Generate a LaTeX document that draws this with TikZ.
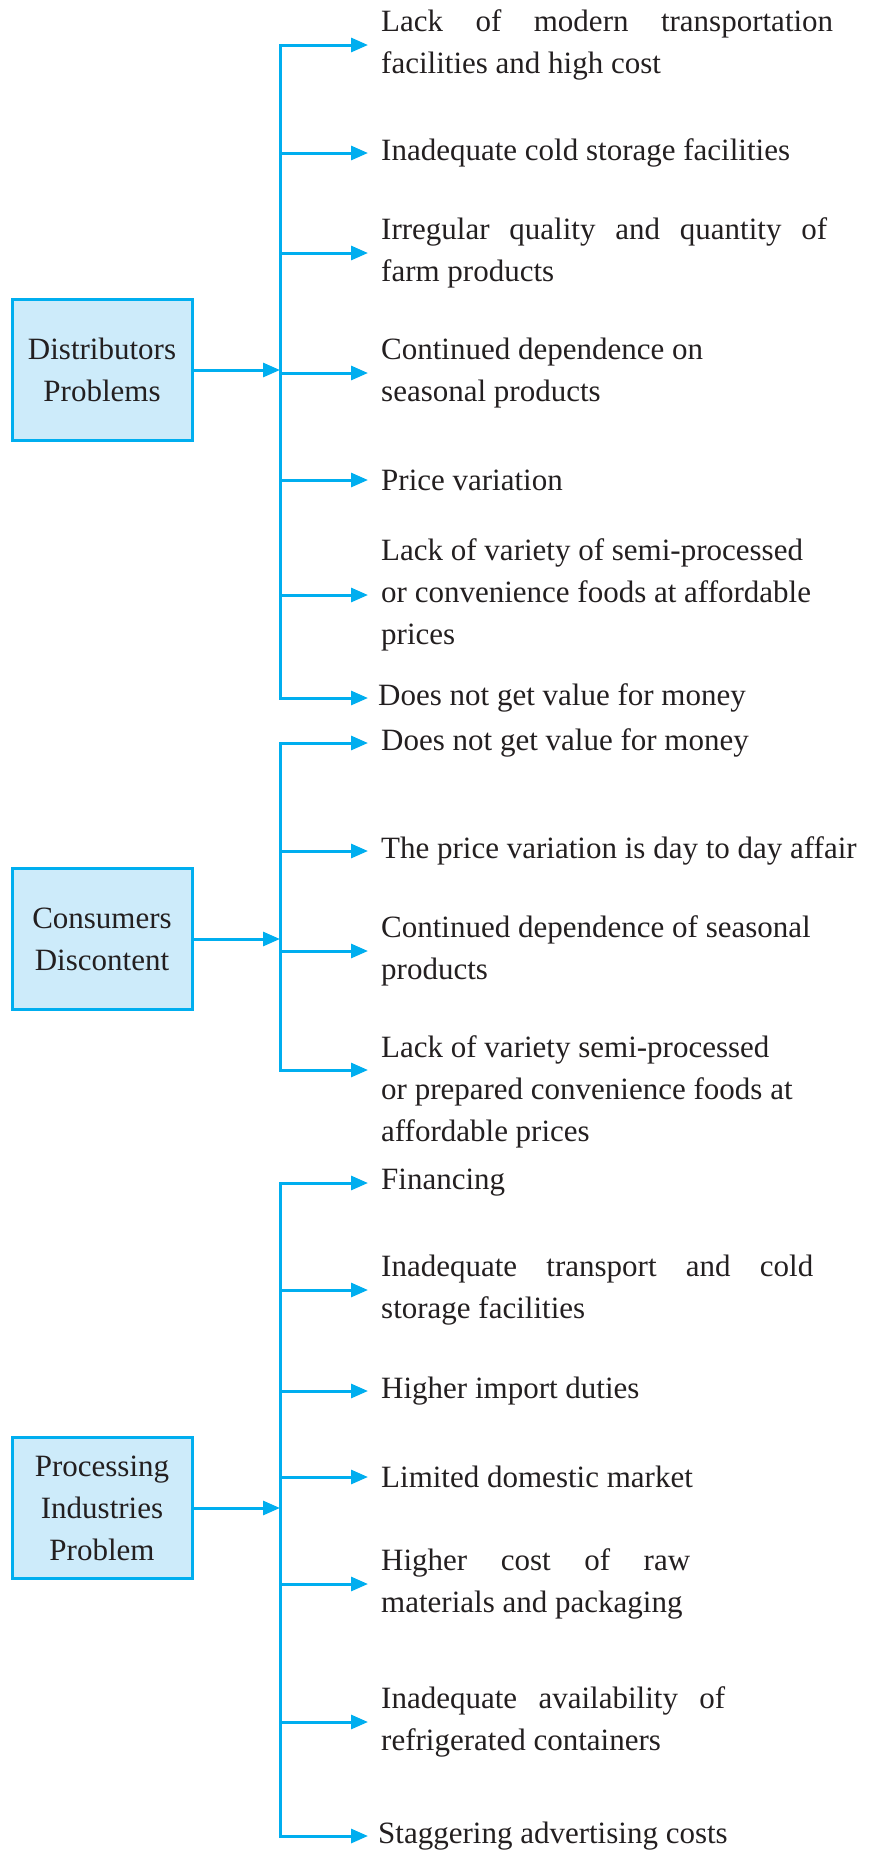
\documentclass[tikz,border=0pt]{standalone}
\usepackage{fontspec}
\setmainfont{Liberation Serif}
\usepackage{xcolor}
\usetikzlibrary{arrows.meta}
\definecolor{flowcyan}{HTML}{00AEEF}
\definecolor{boxblue}{HTML}{CDEBFA}
\definecolor{inkgray}{HTML}{231F20}

\begin{document}
\begin{tikzpicture}[x=1pt, y=-1pt,
    every node/.style={font=\fontsize{31}{42}\selectfont, text=inkgray},
    groupbox/.style={draw=flowcyan, fill=boxblue, line width=3pt, minimum width=180pt, minimum height=141pt, inner sep=0pt, align=center},
    item/.style={anchor=west, inner sep=0pt, align=left},
    jitem/.style={anchor=west, inner sep=0pt, text width=#1, align=justify},
    spine/.style={flowcyan, line width=3pt, line cap=rect},
    branch/.style={flowcyan, line width=3pt, -{Triangle[length=17pt, width=14pt]}}]
    \useasboundingbox (0,0) rectangle (877,1853);

    \node[groupbox] (dist) at (102,370) {Distributors\\Problems};
    \node[groupbox] (cons) at (102,939) {Consumers\\Discontent};
    \node[groupbox] (proc) at (102,1508) {Processing\\Industries\\Problem};

    \node[jitem=452pt] (d1) at (381,45) {Lack of modern transportation\linebreak facilities and high cost};
    \node[item] (d2) at (381,153) {Inadequate cold storage facilities};
    \node[jitem=446pt] (d3) at (381,253) {Irregular quality and quantity of\linebreak farm products};
    \node[item] (d4) at (381,373) {Continued dependence on\\seasonal products};
    \node[item] (d5) at (381,480) {Price variation};
    \node[item] (d6) at (381,595) {Lack of variety of semi-processed\\or convenience foods at affordable\\prices};
    \node[item] (d7) at (378,698) {Does not get value for money};

    \node[item] (c1) at (381,743) {Does not get value for money};
    \node[item] (c2) at (381,851) {The price variation is day to day affair};
    \node[item] (c3) at (381,951) {Continued dependence of seasonal\\products};
    \node[item] (c4) at (381,1092) {Lack of variety semi-processed\\or prepared convenience foods at\\affordable prices};

    \node[item] (p1) at (381,1183) {Financing};
    \node[jitem=432pt] (p2) at (381,1290) {Inadequate transport and cold\linebreak storage facilities};
    \node[item] (p3) at (381,1391) {Higher import duties};
    \node[item] (p4) at (381,1477) {Limited domestic market};
    \node[jitem=309pt] (p5) at (381,1584) {Higher cost of raw\linebreak materials and packaging};
    \node[jitem=344pt] (p6) at (381,1722) {Inadequate availability of\linebreak refrigerated containers};
    \node[item] (p7) at (378,1836) {Staggering advertising costs};

    \coordinate (dtop) at (280,45);
    \coordinate (dbot) at (280,698);
    \coordinate (ctop) at (280,743);
    \coordinate (cbot) at (280,1070);
    \coordinate (ptop) at (280,1183);
    \coordinate (pbot) at (280,1836);

    \draw[spine] (dtop) -- (dbot);
    \draw[spine] (ctop) -- (cbot);
    \draw[spine] (ptop) -- (pbot);

    \draw[branch] (dist.east) -- (dist.east -| dtop);
    \draw[branch] (cons.east) -- (cons.east -| ctop);
    \draw[branch] (proc.east) -- (proc.east -| ptop);

    \foreach \n in {d1,d2,d3,d4,d5,d6}
        \draw[branch] (dtop |- \n.west) -- ([xshift=-13pt]\n.west);
    \draw[branch] (dtop |- d7.west) -- ([xshift=-10pt]d7.west);
    \foreach \n in {c1,c2,c3}
        \draw[branch] (ctop |- \n.west) -- ([xshift=-13pt]\n.west);
    \draw[branch] ([yshift=22pt]c4.west -| ctop) -- ([xshift=-13pt, yshift=22pt]c4.west);
    \foreach \n in {p1,p2,p3,p4,p5,p6}
        \draw[branch] (ptop |- \n.west) -- ([xshift=-13pt]\n.west);
    \draw[branch] (ptop |- p7.west) -- ([xshift=-10pt]p7.west);
\end{tikzpicture}
\end{document}
